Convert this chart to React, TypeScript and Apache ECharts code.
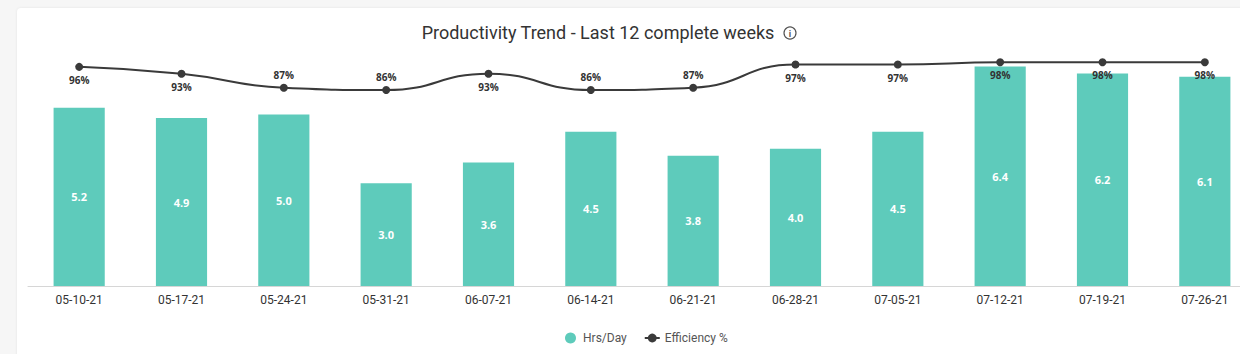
import React, { useEffect, useRef } from "react";
import * as echarts from "echarts";

const categories = ["05-10-21", "05-17-21", "05-24-21", "05-31-21", "06-07-21", "06-14-21", "06-21-21", "06-28-21", "07-05-21", "07-12-21", "07-19-21", "07-26-21"];
const hrsPerDay = [5.2, 4.9, 5.0, 3.0, 3.6, 4.5, 3.8, 4.0, 4.5, 6.4, 6.2, 6.1];
const efficiency = [96, 93, 87, 86, 93, 86, 87, 97, 97, 98, 98, 98];
const effLabelPos = ["bottom", "bottom", "top", "top", "bottom", "top", "top", "bottom", "bottom", "bottom", "bottom", "bottom"];

export default function App() {
  const ref = useRef<HTMLDivElement>(null);
  useEffect(() => {
    if (!ref.current) return;
    const chart = echarts.init(ref.current, null, { renderer: "svg" });
    chart.setOption({
      animation: false,
      textStyle: { fontFamily: "Roboto" },
      graphic: [
        {
          type: "text",
          x: 581,
          y: 24,
          style: {
            text: "Productivity Trend - Last 12 complete weeks",
            fontSize: 18,
            fontFamily: "Roboto",
            fill: "#333",
            align: "center",
            verticalAlign: "middle",
          },
        },
        {
          type: "circle",
          shape: { cx: 773, cy: 25, r: 6 },
          style: { fill: "none", stroke: "#555", lineWidth: 1.2 },
        },
        {
          type: "text",
          x: 773,
          y: 25.5,
          style: { text: "i", fontSize: 9, fontFamily: "Roboto", fill: "#555", align: "center", verticalAlign: "middle", fontWeight: "bold" },
        },
      ],
      legend: {
        left: 543,
        top: 319,
        itemGap: 17,
        itemWidth: 15,
        itemHeight: 11,
        textStyle: { fontSize: 12, color: "#555", fontFamily: "Roboto" },
        data: [
          { name: "Hrs/Day", icon: "circle" },
          { name: "Efficiency %" },
        ],
      },
      grid: { left: 11, top: 38, width: 1228, height: 240 },
      xAxis: {
        type: "category",
        data: categories,
        axisTick: { show: false },
        axisLine: { lineStyle: { color: "#d6d6d6" } },
        axisLabel: { color: "#333", fontSize: 12, margin: 8, fontFamily: "Roboto" },
      },
      yAxis: [
        { type: "value", min: 0, max: 7, show: false, splitLine: { show: false } },
        { type: "value", min: 1.5, max: 105, show: false, splitLine: { show: false } },
      ],
      series: [
        {
          name: "Hrs/Day",
          type: "bar",
          data: hrsPerDay,
          barWidth: "50%",
          itemStyle: { color: "#5ecbbb" },
          label: {
            show: true,
            position: "inside",
            color: "#fff",
            fontSize: 11,
            fontWeight: "bold",
            fontFamily: "Open Sans",
            formatter: (p: any) => Number(p.value).toFixed(1),
          },
        },
        {
          name: "Efficiency %",
          type: "line",
          yAxisIndex: 1,
          smooth: true,
          symbol: "circle",
          symbolSize: 8,
          data: efficiency.map((v, i) => ({
            value: v,
            label: { position: effLabelPos[i] },
          })),
          lineStyle: { color: "#3a3a3a", width: 2 },
          itemStyle: { color: "#3a3a3a" },
          label: {
            show: true,
            color: "#333",
            fontSize: 10,
            fontWeight: "bold",
            fontFamily: "Open Sans",
            distance: 4,
            formatter: (p: any) => p.value + "%",
          },
        },
      ],
    });
    return () => chart.dispose();
  }, []);
  return (
    <div style={{ position: "fixed", left: 0, top: 0, width: 1240, height: 354, background: "#f6f6f6", overflow: "hidden" }}>
      <div
        style={{
          position: "absolute",
          left: 17,
          top: 8,
          width: 1260,
          height: 400,
          background: "#fff",
          borderRadius: 4,
          boxShadow: "0 0 3px rgba(0,0,0,0.08)",
        }}
      >
        <div ref={ref} style={{ width: 1260, height: 346 }} />
      </div>
    </div>
  );
}
